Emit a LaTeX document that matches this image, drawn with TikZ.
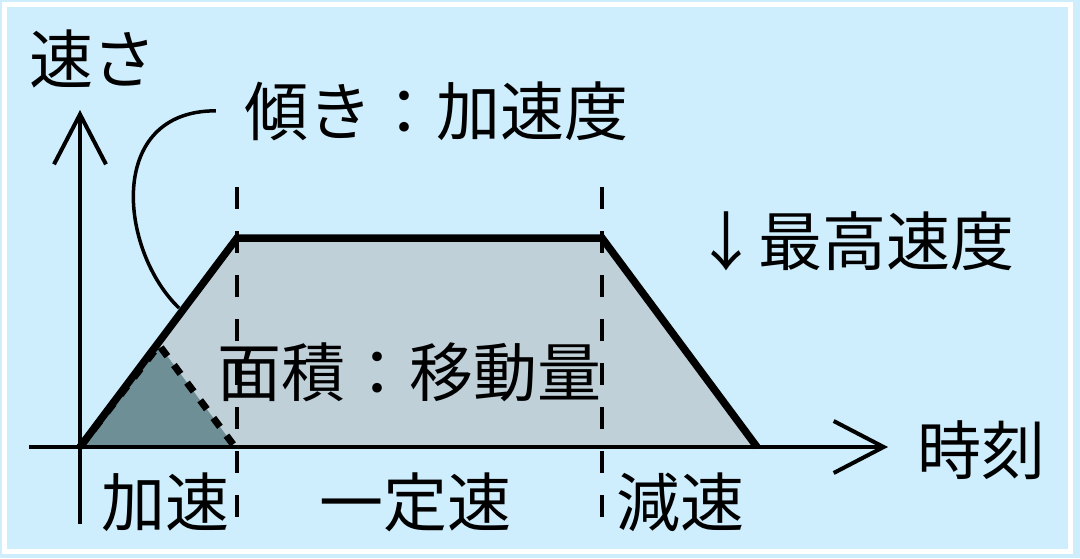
\documentclass[tikz,border=0pt]{standalone}
\usepackage{fontspec}
\setmainfont{Noto Sans CJK JP}
\usetikzlibrary{arrows.meta}
\definecolor{bgblue}{HTML}{CFEEFD}
\definecolor{areagray}{HTML}{C0D0D8}
\definecolor{accdark}{HTML}{6F8F96}

\begin{document}
\begin{tikzpicture}[x=1pt,y=-1pt,
  jlabel/.style={anchor=base,inner sep=0pt,font=\fontsize{64}{64}\selectfont},
  axis/.style={line width=4pt,-{Straight Barb[length=50pt,width=52pt]}},
  phase/.style={line width=4pt,dash pattern=on 22pt off 22pt},
  profile/.style={line width=7.5pt,line join=miter},
  accarea/.style={line width=7pt,dash pattern=on 11pt off 11pt}]
\useasboundingbox (0,0) rectangle (1080,558);
\fill[bgblue] (0,0) rectangle (1080,558);
\draw[white,line width=5pt] (4.5,4.5) rectangle (1070,551);
    % axes and profile corners
    \coordinate (O) at (80,447);
    \coordinate (xstart) at (29,447);
    \coordinate (xtip) at (888,447);
    \coordinate (ystart) at (80,524);
    \coordinate (ytip) at (80,110);
    \coordinate (A) at (237,238);
    \coordinate (B) at (602,238);
    \coordinate (C) at (757,447);
    \coordinate (P) at (159,345);
    \coordinate (Q) at (235,447);
    \coordinate (touch) at (179,308);
    \fill[areagray] (O) -- (A) -- (B) -- (C) -- cycle;
    \fill[accdark] (O) -- (P) -- (Q) -- cycle;
    \draw[axis] (xstart) -- (xtip);
    \draw[axis] (ystart) -- (ytip);
    \draw[phase] (237,187) -- (237,520);
    \draw[phase] (602,187) -- (602,520);
    \draw[profile] (O) -- (A) -- (B) -- (C);
    \draw[accarea] (O) -- (P) -- (Q);
    % labels
    \node[jlabel] (vel) at (93,83) {速さ};
    \node[jlabel] (slope) at (436,135) {傾き：加速度};
    \node[jlabel] (vmax) at (854,265) {↓最高速度};
    \node[jlabel] (area) at (409,396) {面積：移動量};
    \node[jlabel] (time) at (981,474) {時刻};
    \node[jlabel] (acc) at (165,526) {加速};
    \node[jlabel] (const) at (415,526) {一定速};
    \node[jlabel] (dec) at (680,526) {減速};
    \draw[line width=3.5pt] ([xshift=-28pt]slope.west) .. controls +(-110,0) and +(-60,-58) .. (touch);
\end{tikzpicture}
\end{document}
